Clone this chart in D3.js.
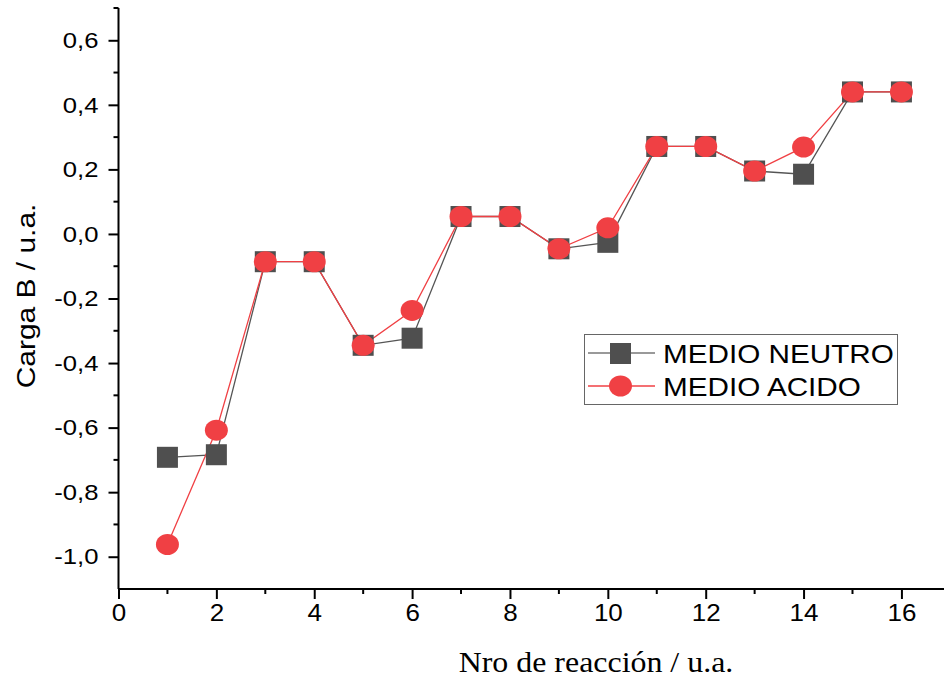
<!DOCTYPE html>
<html><head><meta charset="utf-8">
<script src="https://cdn.jsdelivr.net/npm/d3@7"></script>
<style>body{margin:0;background:#fff}svg{display:block}</style>
</head><body>
<svg id="c" width="944" height="679"></svg>
<script>
const reaction = [1,2,3,4,5,6,7,8,9,10,11,12,13,14,15,16];
const medioNeutro = [-0.692,-0.684,-0.086,-0.086,-0.345,-0.323,0.054,0.054,-0.046,-0.026,0.271,0.271,0.195,0.185,0.440,0.440];
const medioAcido  = [-0.962,-0.608,-0.086,-0.086,-0.345,-0.237,0.054,0.054,-0.046,0.019,0.271,0.271,0.195,0.269,0.440,0.440];
const xTicks = [0,2,4,6,8,10,12,14,16];
const yTicks = [-1.0,-0.8,-0.6,-0.4,-0.2,0.0,0.2,0.4,0.6];
const seriesNames = ["MEDIO NEUTRO","MEDIO ACIDO"];

const svg = d3.select("#c");
const L = 118.5, R = 944, T = 8, B = 589;
const x = d3.scaleLinear().domain([0,16.87]).range([L,R]);
const y = d3.scaleLinear().domain([-1.1,0.7]).range([B,T]);
const fmt = d => d3.format(".1f")(d).replace(".",",").replace("−","-");
function stretch(sel, f){
  sel.each(function(){
    const w = this.getComputedTextLength();
    d3.select(this).attr("textLength", w*f).attr("lengthAdjust","spacingAndGlyphs");
  });
}
const SANS = "Liberation Sans, Arial";

// axes
const xAxis = d3.axisBottom(x).tickValues(xTicks).tickSize(10).tickPadding(6).tickFormat(d=>d);
const gx = svg.append("g").attr("transform",`translate(0,${B})`).call(xAxis);
gx.select(".domain").attr("d",`M${L},0H${R}`).attr("stroke","#000").attr("stroke-width",2);
gx.selectAll(".tick line").attr("stroke","#000").attr("stroke-width",2);
gx.selectAll("text").attr("font-family",SANS).attr("font-size",23).attr("fill","#000");
stretch(gx.selectAll("text"),1.13);
svg.append("g").selectAll("line").data(d3.range(1,17,2)).join("line")
  .attr("x1",d=>x(d)).attr("x2",d=>x(d)).attr("y1",B).attr("y2",B+5)
  .attr("stroke","#000").attr("stroke-width",2);

const yAxis = d3.axisLeft(y).tickValues(yTicks).tickSize(10).tickPadding(10).tickFormat(fmt);
const gy = svg.append("g").attr("transform",`translate(${L},0)`).call(yAxis);
gy.select(".domain").attr("d",`M0,${T}V${B}`).attr("stroke","#000").attr("stroke-width",2);
gy.selectAll(".tick line").attr("stroke","#000").attr("stroke-width",2);
gy.selectAll("text").attr("font-family",SANS).attr("font-size",22.5).attr("fill","#000");
stretch(gy.selectAll("text"),1.14);
svg.append("g").selectAll("line").data([-0.9,-0.7,-0.5,-0.3,-0.1,0.1,0.3,0.5,0.7]).join("line")
  .attr("x1",L-5).attr("x2",L).attr("y1",d=>y(d)).attr("y2",d=>y(d))
  .attr("stroke","#000").attr("stroke-width",2);

// titles
const yt = svg.append("text").attr("transform",`translate(35,296) rotate(-90)`).attr("text-anchor","middle")
  .attr("font-family",SANS).attr("font-size",26.5).attr("fill","#000").text("Carga B / u.a.");
stretch(yt,1.13);
const xt = svg.append("text").attr("x",596).attr("y",672).attr("text-anchor","middle")
  .attr("font-family","Liberation Serif, serif").attr("font-size",29).attr("fill","#000").text("Nro de reacción / u.a.");
stretch(xt,1.1);

const grey = "#4f4f4f", red = "#f04044";
const line = d3.line().x((d,i)=>x(reaction[i])).y(d=>y(d));
svg.append("path").datum(medioNeutro).attr("d",line).attr("fill","none").attr("stroke","#555").attr("stroke-width",1.3);
svg.append("path").datum(medioAcido).attr("d",line).attr("fill","none").attr("stroke",red).attr("stroke-width",1.3);

svg.append("g").selectAll("rect").data(medioNeutro).join("rect")
  .attr("x",(d,i)=>x(reaction[i])-10.5).attr("y",d=>y(d)-10.5).attr("width",21).attr("height",21).attr("fill",grey);
svg.append("g").selectAll("ellipse").data(medioAcido).join("ellipse")
  .attr("cx",(d,i)=>x(reaction[i])).attr("cy",d=>y(d)).attr("rx",11.5).attr("ry",10.5).attr("fill",red);

// legend
const lg = svg.append("g");
lg.append("rect").attr("x",584.5).attr("y",334.5).attr("width",313).attr("height",70)
  .attr("fill","#fff").attr("stroke","#666").attr("stroke-width",1);
const rows = [{n:seriesNames[0],yy:353},{n:seriesNames[1],yy:386}];
lg.append("line").attr("x1",588).attr("x2",655).attr("y1",353).attr("y2",353).attr("stroke","#777").attr("stroke-width",1.3);
lg.append("rect").attr("x",610).attr("y",343).attr("width",21).attr("height",21).attr("fill",grey);
lg.append("line").attr("x1",588).attr("x2",655).attr("y1",386).attr("y2",386).attr("stroke",red).attr("stroke-width",1.3);
lg.append("ellipse").attr("cx",620.5).attr("cy",386).attr("rx",11.5).attr("ry",10.5).attr("fill",red);
const lt = lg.selectAll("text.l").data(rows).join("text").attr("class","l").attr("x",663).attr("y",d=>d.yy+9.5)
  .attr("font-family",SANS).attr("font-size",26.5).attr("fill","#000").text(d=>d.n);
stretch(lt,1.12);
</script>
</body></html>
